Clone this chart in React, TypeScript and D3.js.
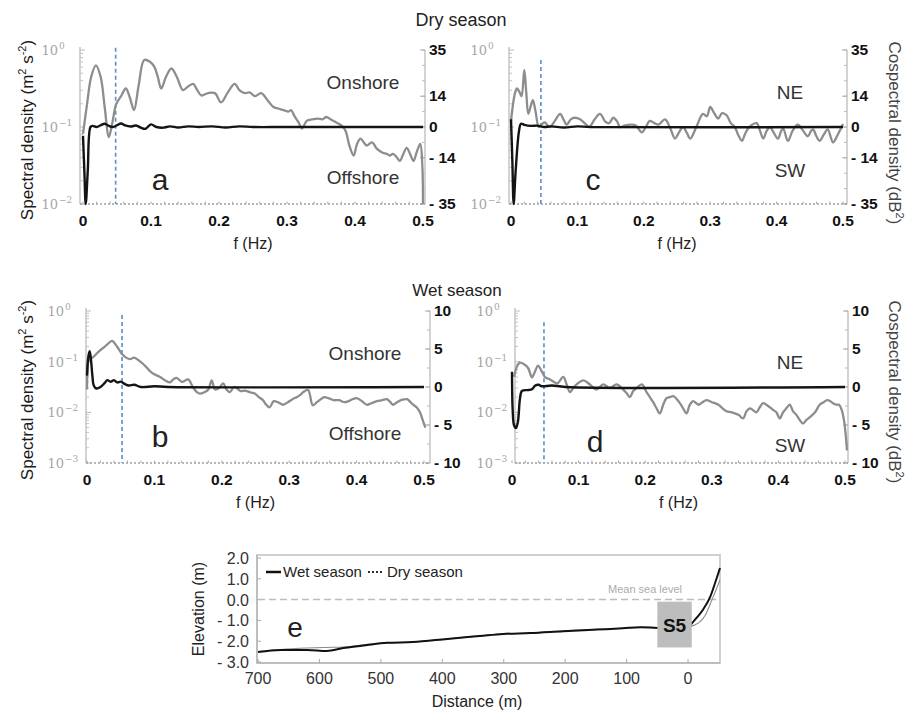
import React from "react";
import * as d3 from "d3";

// ---------- DATA ----------
// Panel a (dry season, cross-shore): frequency (Hz) and log10 spectral density
const dryCrossF = [0, 0.006, 0.012, 0.019, 0.026, 0.032, 0.038, 0.043, 0.049, 0.056, 0.063, 0.069, 0.075, 0.082, 0.09, 0.098, 0.105, 0.11, 0.115, 0.122, 0.13, 0.138, 0.147, 0.155, 0.162, 0.168, 0.174, 0.184, 0.194, 0.203, 0.213, 0.223, 0.23, 0.238, 0.245, 0.253, 0.262, 0.272, 0.28, 0.287, 0.295, 0.302, 0.306, 0.311, 0.317, 0.322, 0.329, 0.337, 0.346, 0.352, 0.358, 0.364, 0.37, 0.38, 0.386, 0.392, 0.398, 0.403, 0.408, 0.413, 0.417, 0.425, 0.432, 0.44, 0.447, 0.451, 0.456, 0.462, 0.466, 0.471, 0.476, 0.481, 0.486, 0.491, 0.496, 0.499, 0.5];
const dryCrossLogS = [-1.09, -0.7, -0.35, -0.2, -0.35, -0.75, -1.13, -0.95, -0.7, -0.6, -0.5, -0.62, -0.78, -0.45, -0.13, -0.15, -0.22, -0.35, -0.5, -0.35, -0.24, -0.35, -0.52, -0.47, -0.44, -0.52, -0.59, -0.56, -0.56, -0.68, -0.55, -0.44, -0.52, -0.56, -0.55, -0.6, -0.56, -0.66, -0.74, -0.76, -0.78, -0.8, -0.78, -0.86, -0.94, -1.02, -0.92, -0.9, -0.89, -0.9, -0.87, -0.9, -0.93, -0.98, -1.05, -1.25, -1.37, -1.22, -1.15, -1.2, -1.24, -1.2, -1.28, -1.33, -1.35, -1.37, -1.35, -1.4, -1.44, -1.35, -1.27, -1.35, -1.44, -1.32, -1.22, -1.5, -2.0];
const dryCrossCoF = [0, 0.002, 0.004, 0.007, 0.011, 0.014, 0.02, 0.026, 0.032, 0.038, 0.044, 0.05, 0.056, 0.062, 0.07, 0.078, 0.085, 0.092, 0.1, 0.108, 0.118, 0.128, 0.14, 0.155, 0.17, 0.19, 0.21, 0.23, 0.25, 0.3, 0.5];
const dryCrossCo = [-4, -20, -35, -20, 0, 0.5, 0, 0.8, 1.5, 0.5, 0, 0.8, 1.6, 0.7, 0.2, 0.7, -0.3, -0.8, 1.2, 0, -0.3, 0.3, -0.2, 0.3, 0, 0.3, -0.2, 0.3, 0, 0, 0];

// Panel c (dry season, alongshore)
const dryAlongF = [0, 0.006, 0.009, 0.013, 0.016, 0.02, 0.023, 0.026, 0.03, 0.033, 0.037, 0.042, 0.047, 0.051, 0.055, 0.059, 0.066, 0.074, 0.079, 0.084, 0.09, 0.096, 0.104, 0.112, 0.118, 0.126, 0.134, 0.142, 0.148, 0.154, 0.16, 0.164, 0.172, 0.18, 0.188, 0.197, 0.203, 0.209, 0.216, 0.222, 0.232, 0.24, 0.247, 0.253, 0.259, 0.265, 0.27, 0.28, 0.289, 0.295, 0.3, 0.306, 0.312, 0.318, 0.325, 0.331, 0.337, 0.342, 0.348, 0.352, 0.357, 0.363, 0.37, 0.375, 0.38, 0.385, 0.39, 0.396, 0.402, 0.407, 0.41, 0.417, 0.424, 0.432, 0.44, 0.447, 0.452, 0.455, 0.46, 0.465, 0.471, 0.477, 0.485, 0.492, 0.5];
const dryAlongLogS = [-0.92, -0.56, -0.5, -0.55, -0.6, -0.26, -0.55, -0.83, -0.72, -0.65, -0.8, -1.0, -0.96, -0.94, -0.98, -1.0, -0.92, -0.83, -0.9, -0.97, -0.9, -0.88, -0.9, -0.96, -1.0, -0.9, -0.83, -0.93, -0.95, -0.88, -0.93, -1.0, -0.98, -0.97, -0.98, -1.07, -1.0, -0.92, -0.95, -0.97, -0.9, -1.02, -1.15, -1.07, -1.0, -1.08, -1.15, -0.98, -0.83, -0.86, -0.74, -0.82, -0.89, -0.82, -0.85, -0.95, -1.0, -1.1, -1.18, -1.1, -1.02, -0.97, -0.95, -1.05, -1.15, -1.05, -1.0, -1.08, -1.15, -1.05, -1.02, -1.18, -1.05, -0.97, -1.05, -1.12, -1.05, -1.03, -1.12, -1.18, -1.1, -1.03, -1.2, -1.1, -0.96];
const dryAlongCoF = [0, 0.002, 0.004, 0.007, 0.012, 0.015, 0.02, 0.03, 0.04, 0.05, 0.06, 0.08, 0.1, 0.12, 0.5];
const dryAlongCo = [3.5, -15, -35, -20, -2, 1.5, 1, 0.5, 0.6, 0, 0.3, -0.2, 0.3, 0, 0];

// Panel b (wet season, cross-shore)
const wetCrossF = [0, 0.002, 0.004, 0.01, 0.019, 0.025, 0.03, 0.037, 0.044, 0.052, 0.058, 0.064, 0.07, 0.079, 0.086, 0.093, 0.1, 0.108, 0.116, 0.123, 0.128, 0.133, 0.141, 0.15, 0.157, 0.163, 0.168, 0.175, 0.18, 0.185, 0.19, 0.196, 0.202, 0.207, 0.212, 0.218, 0.222, 0.228, 0.234, 0.241, 0.249, 0.255, 0.261, 0.266, 0.271, 0.277, 0.283, 0.291, 0.298, 0.305, 0.311, 0.316, 0.321, 0.328, 0.335, 0.341, 0.346, 0.352, 0.358, 0.366, 0.374, 0.382, 0.388, 0.394, 0.4, 0.408, 0.415, 0.422, 0.43, 0.438, 0.445, 0.45, 0.454, 0.46, 0.468, 0.475, 0.48, 0.484, 0.489, 0.494, 0.498, 0.502];
const wetCrossLogS = [-1.55, -1.0, -0.95, -0.9, -0.78, -0.72, -0.66, -0.59, -0.69, -0.85, -0.92, -0.95, -0.92, -1.0, -1.08, -1.18, -1.25, -1.3, -1.37, -1.41, -1.35, -1.32, -1.4, -1.35, -1.5, -1.6, -1.63, -1.6, -1.55, -1.37, -1.55, -1.52, -1.43, -1.55, -1.6, -1.5, -1.52, -1.58, -1.57, -1.6, -1.63, -1.7, -1.76, -1.85, -1.9, -1.78, -1.8, -1.85, -1.8, -1.74, -1.7, -1.66, -1.6, -1.56, -1.86, -1.8, -1.75, -1.7, -1.72, -1.76, -1.76, -1.8, -1.78, -1.74, -1.72, -1.78, -1.85, -1.82, -1.78, -1.76, -1.74, -1.8, -1.85, -1.8, -1.75, -1.74, -1.8, -1.85, -1.9, -2.0, -2.15, -2.3];
const wetCrossCoF = [0, 0.002, 0.004, 0.006, 0.008, 0.01, 0.014, 0.02, 0.026, 0.03, 0.035, 0.04, 0.045, 0.05, 0.056, 0.062, 0.07, 0.08, 0.1, 0.12, 0.5];
const wetCrossCo = [1.5, 4.0, 4.7, 3.5, 1.5, 0.2, -0.2, 0, 0.5, 0.9, 0.7, 0.9, 0.6, 0.7, 0.4, 0.2, 0.3, 0, 0.1, 0, 0];

// Panel d (wet season, alongshore)
const wetAlongF = [0.003, 0.008, 0.012, 0.018, 0.024, 0.03, 0.035, 0.039, 0.045, 0.05, 0.057, 0.063, 0.068, 0.077, 0.082, 0.087, 0.092, 0.097, 0.107, 0.117, 0.127, 0.137, 0.147, 0.157, 0.167, 0.172, 0.177, 0.182, 0.187, 0.195, 0.202, 0.207, 0.212, 0.217, 0.222, 0.227, 0.232, 0.237, 0.242, 0.25, 0.256, 0.262, 0.267, 0.272, 0.28, 0.286, 0.292, 0.3, 0.31, 0.316, 0.322, 0.33, 0.34, 0.347, 0.352, 0.357, 0.362, 0.367, 0.372, 0.377, 0.385, 0.392, 0.397, 0.402, 0.407, 0.412, 0.417, 0.422, 0.427, 0.432, 0.437, 0.442, 0.447, 0.455, 0.462, 0.468, 0.473, 0.478, 0.482, 0.487, 0.491, 0.495, 0.499, 0.503];
const wetAlongLogS = [-1.3, -1.08, -1.02, -1.05, -1.12, -1.31, -1.18, -1.08, -1.2, -1.31, -1.35, -1.4, -1.43, -1.3, -1.45, -1.6, -1.52, -1.45, -1.37, -1.45, -1.55, -1.45, -1.52, -1.45, -1.55, -1.62, -1.7, -1.58, -1.52, -1.45, -1.6, -1.7, -1.8, -1.92, -2.02, -1.85, -1.72, -1.7, -1.68, -1.78, -1.9, -2.02, -1.85, -1.78, -1.85, -1.8, -1.76, -1.8, -1.85, -1.92, -1.98, -2.0, -2.05, -2.12, -1.98, -1.92, -1.96, -2.0, -1.9, -1.82, -1.88, -1.95, -2.0, -2.12, -2.0, -1.92, -1.85, -1.98, -2.05, -2.15, -2.22, -2.15, -2.1, -2.0, -1.85, -1.8, -1.76, -1.78, -1.82, -1.85, -1.85, -1.95, -2.2, -2.75];
const wetAlongCoF = [0, 0.001, 0.003, 0.006, 0.009, 0.012, 0.015, 0.025, 0.03, 0.035, 0.04, 0.045, 0.06, 0.08, 0.5];
const wetAlongCo = [2.0, -3, -5.0, -5.4, -4.5, -1.5, -0.5, -0.4, -0.3, 0.2, 0.3, 0.1, 0.2, 0, 0];

// Cut-off frequencies (Hz) and top of marker (log10 density)
const cutoffF = [0.048, 0.045, 0.052, 0.048];
const cutoffTopLog = [0.03, -0.13, -0.08, -0.22];

// Tick values
const dryCoTicks = [35, 14, 0, -14, -35];
const wetCoTicks = [10, 5, 0, -5, -10];
const freqTicks = [0, 0.1, 0.2, 0.3, 0.4, 0.5];

// Panel e: beach profile (distance m, elevation m)
const wetDist = [700, 663, 620, 588, 561, 522, 490, 448, 392, 339, 301, 257, 203, 148, 106, 78, 50, 20, 0, -8, -15, -24, -36, -44, -52];
const wetElev = [-2.52, -2.42, -2.42, -2.47, -2.33, -2.18, -2.08, -2.04, -1.89, -1.75, -1.65, -1.61, -1.52, -1.44, -1.38, -1.33, -1.36, -1.38, -1.3, -1.08, -0.84, -0.5, 0.13, 0.8, 1.52];
const dryDist = [700, 663, 620, 590, 560, 522, 490, 448, 392, 339, 301, 257, 203, 148, 106, 78, 50, 20, 0, -11, -20, -28, -39, -46, -52];
const dryElev = [-2.5, -2.4, -2.33, -2.3, -2.28, -2.15, -2.08, -2.04, -1.89, -1.75, -1.65, -1.61, -1.5, -1.43, -1.38, -1.33, -1.36, -1.38, -1.32, -1.22, -1.05, -0.75, 0, 0.5, 0.95];
const distTicks = [700, 600, 500, 400, 300, 200, 100, 0];
const elevTicks = [2, 1, 0, -1, -2, -3];
const stationS5 = { dFrom: 50, dTo: -6, eTop: -0.1, eBot: -2.3 };

// ---------- LAYOUT ----------
const FONT = "'Liberation Sans', Arial, Helvetica, sans-serif";
const SERIF = "'DejaVu Serif', 'Liberation Serif', serif";

type Panel = {
  letter: string; up: string; down: string;
  xL: number; xR: number; axL: number; axR: number; yT: number; yB: number;
  logMin: number; coMax: number; coTicks: number[]; coMinorStep: number;
  sF: number[]; sV: number[]; cF: number[]; cV: number[]; cut: number;
  letterPos: [number, number]; upPos: [number, number]; downPos: [number, number];
};

const panels: Panel[] = [
  { letter: "a", up: "Onshore", down: "Offshore", xL: 83, xR: 423, axL: 80, axR: 425, yT: 50, yB: 204,
    logMin: -2, coMax: 35, coTicks: dryCoTicks, coMinorStep: 7, sF: dryCrossF, sV: dryCrossLogS, cF: dryCrossCoF, cV: dryCrossCo, cut: 0,
    letterPos: [160, 190], upPos: [363, 89], downPos: [363, 184] },
  { letter: "c", up: "NE", down: "SW", xL: 511, xR: 843, axL: 509, axR: 847, yT: 50, yB: 204,
    logMin: -2, coMax: 35, coTicks: dryCoTicks, coMinorStep: 7, sF: dryAlongF, sV: dryAlongLogS, cF: dryAlongCoF, cV: dryAlongCo, cut: 1,
    letterPos: [593, 190], upPos: [790, 99], downPos: [790, 177] },
  { letter: "b", up: "Onshore", down: "Offshore", xL: 87, xR: 424, axL: 86, axR: 430, yT: 311, yB: 463,
    logMin: -3, coMax: 10, coTicks: wetCoTicks, coMinorStep: 2.5, sF: wetCrossF, sV: wetCrossLogS, cF: wetCrossCoF, cV: wetCrossCo, cut: 2,
    letterPos: [160, 447], upPos: [365, 360], downPos: [365, 440] },
  { letter: "d", up: "NE", down: "SW", xL: 512, xR: 845, axL: 515, axR: 848, yT: 311, yB: 463,
    logMin: -3, coMax: 10, coTicks: wetCoTicks, coMinorStep: 2.5, sF: wetAlongF, sV: wetAlongLogS, cF: wetAlongCoF, cV: wetAlongCo, cut: 3,
    letterPos: [595, 452], upPos: [790, 369], downPos: [790, 452] },
];

const fmtNeg = (v: number, digits = 0) => (v < 0 ? "- " + Math.abs(v).toFixed(digits) : v.toFixed(digits));

function SpectralPanel({ p }: { p: Panel }) {
  const x = d3.scaleLinear().domain([0, 0.5]).range([p.xL, p.xR]);
  const yS = d3.scaleLog().domain([Math.pow(10, p.logMin), 1]).range([p.yB, p.yT]);
  const yC = d3.scaleLinear().domain([-p.coMax, p.coMax]).range([p.yB, p.yT]);

  const sLine = d3.line<number>()
    .x((_, i) => x(p.sF[i]))
    .y((v) => yS(Math.pow(10, v)))
    .curve(d3.curveCatmullRom.alpha(0.5));
  const cLine = d3.line<number>()
    .x((_, i) => x(p.cF[i]))
    .y((v) => yC(v))
    .curve(d3.curveCatmullRom.alpha(0.5));

  const decades = d3.range(0, p.logMin - 1, -1);
  const minorLog: number[] = [];
  for (let e = p.logMin; e < 0; e++) for (let k = 2; k <= 9; k++) minorLog.push(k * Math.pow(10, e));
  const coMinor = d3.range(-p.coMax, p.coMax + 0.001, p.coMinorStep);
  const fMinor = d3.range(0, 0.5001, 0.02);

  return (
    <g>
      {/* left log axis */}
      <line x1={p.axL} x2={p.axL} y1={p.yT - 3} y2={p.yB} stroke="#c4c4c4" strokeWidth={1.5} />
      {minorLog.map((v, i) => (
        <line key={"ml" + i} x1={p.axL} x2={p.axL + 3} y1={yS(v)} y2={yS(v)} stroke="#c4c4c4" strokeWidth={1} />
      ))}
      {decades.map((e) => (
        <g key={"d" + e}>
          <line x1={p.axL} x2={p.axL + 5} y1={yS(Math.pow(10, e))} y2={yS(Math.pow(10, e))} stroke="#bbb" strokeWidth={1} />
          <text x={p.axL - 22} y={yS(Math.pow(10, e)) + 5} fontFamily={SERIF} fontSize={13} fill="#a6a6a6" textAnchor="end">10</text>
          <text x={p.axL - 21} y={yS(Math.pow(10, e)) - 1} fontFamily={SERIF} fontSize={9} fill="#a6a6a6" textAnchor="start">{e === 0 ? "0" : "\u2212" + Math.abs(e)}</text>
        </g>
      ))}
      {/* right linear axis */}
      <line x1={p.axR} x2={p.axR} y1={p.yT} y2={p.yB} stroke="#c4c4c4" strokeWidth={1.5} />
      {coMinor.map((v, i) => (
        <line key={"cm" + i} x1={p.axR - 3} x2={p.axR} y1={yC(v)} y2={yC(v)} stroke="#bbb" strokeWidth={1} />
      ))}
      {p.coTicks.map((v) => (
        <g key={"ct" + v}>
          <line x1={p.axR - 5} x2={p.axR} y1={yC(v)} y2={yC(v)} stroke="#aaa" strokeWidth={1} />
          <text x={p.axR + 4} y={yC(v) + 5} fontFamily={FONT} fontSize={15.5} fontWeight="bold" fill="#111">{fmtNeg(v)}</text>
        </g>
      ))}
      {/* bottom axis */}
      <line x1={p.axL} x2={p.axR} y1={p.yB} y2={p.yB} stroke="#a0a0a0" strokeWidth={1.5} strokeDasharray="2,2" />
      {fMinor.map((f, i) => (
        <line key={"fm" + i} x1={x(f)} x2={x(f)} y1={p.yB} y2={p.yB - 2.5} stroke="#aaa" strokeWidth={1} />
      ))}
      {freqTicks.map((f) => (
        <text key={"ft" + f} x={x(f)} y={p.yB + 22} fontFamily={FONT} fontSize={15.5} fontWeight="bold" fill="#111" textAnchor="middle">{f === 0 ? "0" : String(f)}</text>
      ))}
      <text x={(p.xL + p.xR) / 2} y={p.yB + 45} fontFamily={FONT} fontSize={16} fill="#222" textAnchor="middle">f (Hz)</text>
      {/* cut-off marker */}
      <line x1={x(cutoffF[p.cut])} x2={x(cutoffF[p.cut])} y1={yS(Math.pow(10, cutoffTopLog[p.cut]))} y2={p.yB} stroke="#5b8ec9" strokeWidth={1.6} strokeDasharray="4,3" />
      {/* curves */}
      <path d={sLine(p.sV) || ""} fill="none" stroke="#8d8d8d" strokeWidth={2.3} strokeLinejoin="round" />
      <path d={cLine(p.cV) || ""} fill="none" stroke="#141414" strokeWidth={2.4} strokeLinejoin="round" />
      {/* annotations */}
      <text x={p.upPos[0]} y={p.upPos[1]} fontFamily={FONT} fontSize={19} fill="#333" textAnchor="middle">{p.up}</text>
      <text x={p.downPos[0]} y={p.downPos[1]} fontFamily={FONT} fontSize={19} fill="#333" textAnchor="middle">{p.down}</text>
      <text x={p.letterPos[0]} y={p.letterPos[1]} fontFamily={FONT} fontSize={30} fill="#222" textAnchor="middle">{p.letter}</text>
    </g>
  );
}

function ProfilePanel() {
  const xE = d3.scaleLinear().domain([700, -52]).range([258, 720]);
  const yE = d3.scaleLinear().domain([-3, 2]).range([662, 558]);
  const wetLine = d3.line<number>().x((_, i) => xE(wetDist[i])).y((v) => yE(v)).curve(d3.curveMonotoneX);
  const dryLine = d3.line<number>().x((_, i) => xE(dryDist[i])).y((v) => yE(v)).curve(d3.curveMonotoneX);
  const sx0 = xE(stationS5.dFrom), sx1 = xE(stationS5.dTo);
  const sy0 = yE(stationS5.eTop), sy1 = yE(stationS5.eBot);
  return (
    <g>
      <rect x={257} y={555} width={463} height={108} fill="none" stroke="#d0d0d0" strokeWidth={2} />
      <line x1={257} x2={257} y1={555} y2={663} stroke="#b8b8b8" strokeWidth={1.5} />
      <line x1={257} x2={720} y1={663} y2={663} stroke="#b8b8b8" strokeWidth={1.5} />
      {distTicks.map((d) => (
        <g key={"dt" + d}>
          <line x1={xE(d)} x2={xE(d)} y1={663} y2={659} stroke="#aaa" strokeWidth={1} />
          <text x={xE(d)} y={684} fontFamily={FONT} fontSize={16} fill="#333" textAnchor="middle">{d}</text>
        </g>
      ))}
      {elevTicks.map((v) => (
        <g key={"et" + v}>
          <line x1={257} x2={261} y1={yE(v)} y2={yE(v)} stroke="#aaa" strokeWidth={1} />
          <text x={249} y={yE(v) + 6} fontFamily={FONT} fontSize={16} fill="#333" textAnchor="end">{fmtNeg(v, 1)}</text>
        </g>
      ))}
      <line x1={258} x2={720} y1={yE(0)} y2={yE(0)} stroke="#bdbdbd" strokeWidth={1.5} strokeDasharray="7,4" />
      <text x={608} y={593} fontFamily={FONT} fontSize={11} fill="#ababab">Mean sea level</text>
      <path d={dryLine(dryElev) || ""} fill="none" stroke="#8a8a8a" strokeWidth={1.1} />
      <path d={wetLine(wetElev) || ""} fill="none" stroke="#111" strokeWidth={2} />
      <rect x={sx0} y={sy0} width={sx1 - sx0} height={sy1 - sy0} fill="#bdbdbd" />
      <text x={(sx0 + sx1) / 2} y={(sy0 + sy1) / 2 + 7} fontFamily={FONT} fontSize={19} fontWeight="bold" fill="#111" textAnchor="middle">S5</text>
      {/* legend */}
      <line x1={266} x2={281} y1={572} y2={572} stroke="#111" strokeWidth={2.5} />
      <text x={283} y={577} fontFamily={FONT} fontSize={15} fill="#222">Wet season</text>
      <line x1={368} x2={384} y1={572} y2={572} stroke="#333" strokeWidth={2} strokeDasharray="2,2" />
      <text x={387} y={577} fontFamily={FONT} fontSize={15} fill="#222">Dry season</text>
      <text x={295} y={637} fontFamily={FONT} fontSize={28} fill="#222" textAnchor="middle">e</text>
      <text x={477} y={707} fontFamily={FONT} fontSize={16} fill="#222" textAnchor="middle">Distance (m)</text>
      <text transform="translate(204,609) rotate(-90)" fontFamily={FONT} fontSize={16} fill="#222" textAnchor="middle">Elevation (m)</text>
    </g>
  );
}

function SpecLabel({ x, y }: { x: number; y: number }) {
  return (
    <text transform={`translate(${x},${y}) rotate(-90)`} fontFamily={FONT} fontSize={17} fill="#1a1a1a" textAnchor="middle">
      Spectral density (m<tspan dy={-7} fontSize={11}>2</tspan><tspan dy={7}> s</tspan><tspan dy={-7} fontSize={11}>-2</tspan><tspan dy={7}>)</tspan>
    </text>
  );
}

function CoLabel({ x, y }: { x: number; y: number }) {
  return (
    <text transform={`translate(${x},${y}) rotate(90)`} fontFamily={FONT} fontSize={17} fill="#444" textAnchor="middle">
      Cospectral density (dB<tspan dy={-7} fontSize={11}>2</tspan><tspan dy={7}>)</tspan>
    </text>
  );
}

export default function App() {
  return (
    <svg width={909} height={714} style={{ position: "absolute", left: 0, top: 0, background: "#fff" }}>
      <rect x={0} y={0} width={909} height={714} fill="#fff" />
      <text x={461} y={26} fontFamily={FONT} fontSize={18} fill="#222" textAnchor="middle">Dry season</text>
      <text x={457} y={296} fontFamily={FONT} fontSize={17} fill="#222" textAnchor="middle">Wet season</text>
      {panels.map((p) => <SpectralPanel key={p.letter} p={p} />)}
      <SpecLabel x={33} y={130} />
      <SpecLabel x={33} y={390} />
      <CoLabel x={889} y={133} />
      <CoLabel x={889} y={392} />
      <ProfilePanel />
    </svg>
  );
}
